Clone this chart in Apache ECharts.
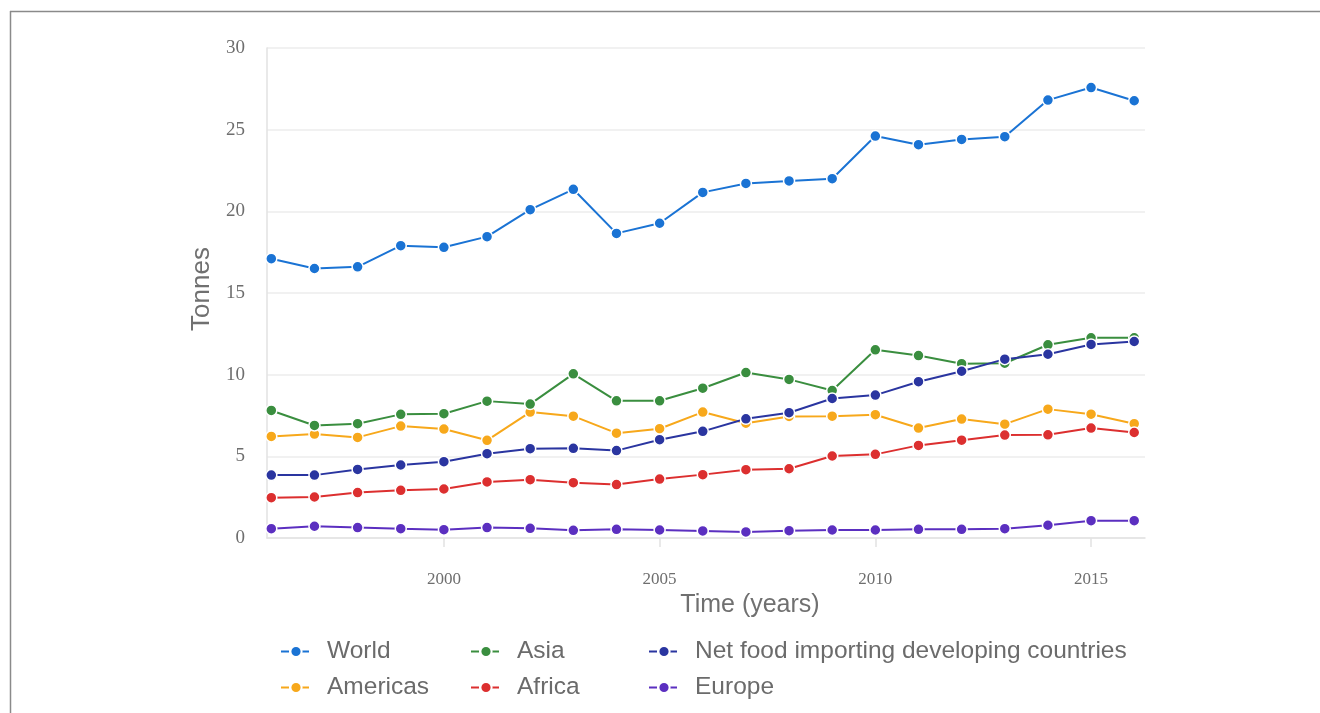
<!DOCTYPE html>
<html>
<head>
<meta charset="utf-8">
<script src="https://cdn.jsdelivr.net/npm/echarts@6/dist/echarts.min.js"></script>
<style>
html,body{margin:0;padding:0;background:#fff;}
#chart{width:1320px;height:713px;}
</style>
</head>
<body>
<div id="chart"></div>
<script>
const years = [1996,1997,1998,1999,2000,2001,2002,2003,2004,2005,2006,2007,2008,2009,2010,2011,2012,2013,2014,2015,2016];
const xTicks = [2000, 2005, 2010, 2015];
const yTicks = [0, 5, 10, 15, 20, 25, 30];

const world    = [17.1,16.5,16.6,17.9,17.8,18.45,20.1,21.35,18.65,19.27,21.16,21.71,21.86,22.0,24.61,24.08,24.4,24.57,26.81,27.58,26.77];
const americas = [6.22,6.36,6.16,6.85,6.67,5.98,7.71,7.46,6.42,6.69,7.71,7.03,7.44,7.46,7.55,6.73,7.28,6.97,7.89,7.58,7.0];
const asia     = [7.81,6.89,7.0,7.57,7.61,8.38,8.2,10.05,8.4,8.4,9.17,10.13,9.71,9.03,11.52,11.17,10.67,10.7,11.83,12.26,12.26];
const africa   = [2.47,2.51,2.78,2.92,3.0,3.43,3.57,3.39,3.27,3.61,3.88,4.18,4.24,5.02,5.12,5.67,5.99,6.3,6.32,6.73,6.46];
const nfidc    = [3.85,3.85,4.2,4.47,4.67,5.16,5.47,5.49,5.35,6.02,6.53,7.3,7.67,8.54,8.75,9.57,10.21,10.95,11.25,11.85,12.03];
const europe   = [0.57,0.72,0.64,0.57,0.51,0.64,0.59,0.47,0.53,0.49,0.43,0.37,0.45,0.49,0.49,0.53,0.53,0.57,0.78,1.06,1.06];

const seriesDefs = [
  {name:'World', data: world, color:'#1a73d4'},
  {name:'Americas', data: americas, color:'#f7a81b'},
  {name:'Asia', data: asia, color:'#3a8e3f'},
  {name:'Africa', data: africa, color:'#dc2f2f'},
  {name:'Net food importing developing countries', data: nfidc, color:'#2a35a0'},
  {name:'Europe', data: europe, color:'#5b2fc0'}
];

const chart = echarts.init(document.getElementById('chart'), null, {renderer:'canvas'});

function legendCol(left, names){
  return {
    orient:'vertical', left:left, top:634, itemGap:11,
    itemWidth:30, itemHeight:14,
    data: names,
    lineStyle:{type:[8,12], width:2},
    textStyle:{fontFamily:'Liberation Sans', fontSize:24.5, color:'#6b6b6b', padding:[0,0,0,11], lineHeight:25},
    selectedMode:false
  };
}

chart.setOption({
  animation:false,
  backgroundColor:'#fff',
  graphic:[
    {type:'line', shape:{x1:10, y1:11.5, x2:1320, y2:11.5}, style:{stroke:'#8a8a8a', lineWidth:1.5}},
    {type:'line', shape:{x1:10.5, y1:11, x2:10.5, y2:713}, style:{stroke:'#8a8a8a', lineWidth:1.5}}
  ],
  grid:{left:267, right:175, top:48, bottom:175, containLabel:false},
  legend:[
    legendCol(275, ['World','Americas']),
    legendCol(465, ['Asia','Africa']),
    legendCol(643, ['Net food importing developing countries','Europe'])
  ],
  xAxis:{
    type:'value', min:1995.9, max:2016.25,
    name:'Time (years)', nameLocation:'middle', nameGap:52,
    nameTextStyle:{fontFamily:'Liberation Sans', fontSize:25, color:'#707070', padding:[0,0,0,88]},
    axisLine:{show:true, lineStyle:{color:'#e2e2e2', width:1.5}},
    axisTick:{show:true, customValues:xTicks, length:9, lineStyle:{color:'#e2e2e2', width:1.5}},
    axisLabel:{customValues:xTicks, margin:33, fontFamily:'Liberation Serif', fontSize:17, color:'#6e6e6e',
      formatter: v => String(v)},
    splitLine:{show:false}
  },
  yAxis:{
    type:'value', min:0, max:30, interval:5,
    name:'Tonnes', nameLocation:'middle', nameGap:50, nameRotate:90,
    nameTextStyle:{fontFamily:'Liberation Sans', fontSize:26, color:'#707070', padding:[0,0,0,8]},
    axisLine:{show:true, lineStyle:{color:'#e2e2e2', width:1.5}},
    axisTick:{show:false},
    axisLabel:{margin:22, fontFamily:'Liberation Serif', fontSize:19, color:'#6e6e6e'},
    splitLine:{show:true, lineStyle:{color:'#ececec', width:1.5}}
  },
  series: seriesDefs.map(s => ({
    name:s.name, type:'line',
    data: years.map((y,i) => [y, s.data[i]]),
    color:s.color,
    symbol:'circle', symbolSize:11,
    lineStyle:{width:2, color:s.color},
    itemStyle:{color:s.color, borderColor:'#fff', borderWidth:1.5},
    emphasis:{disabled:true}
  }))
});
</script>
</body>
</html>
